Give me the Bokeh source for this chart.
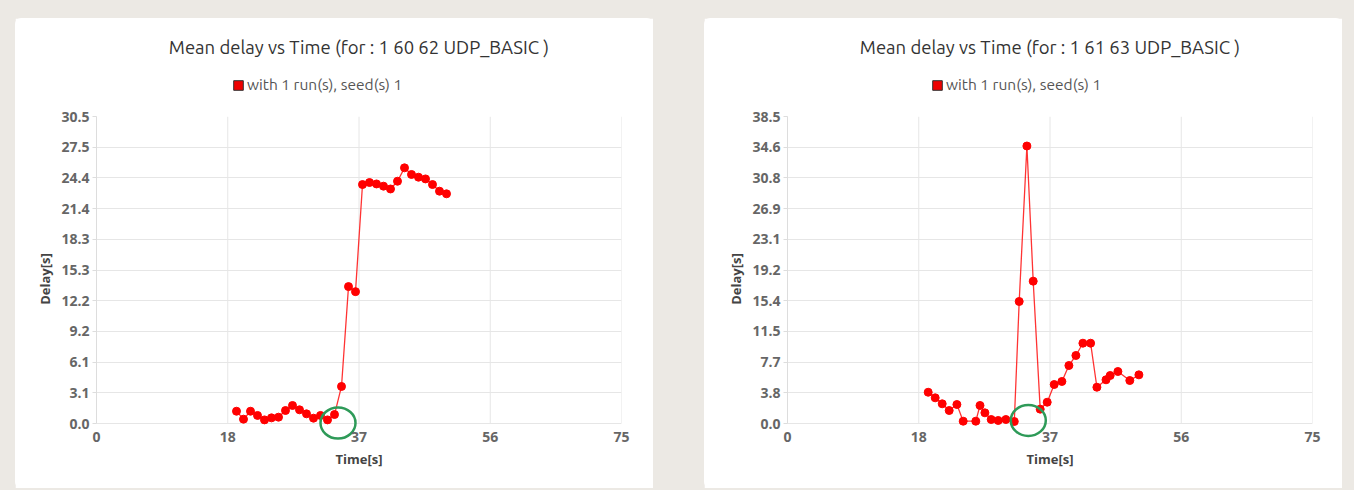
from bokeh.plotting import figure
from bokeh.layouts import row, column
from bokeh.models import (FixedTicker, Legend, LegendItem, ColumnDataSource)
from bokeh.embed import file_html
from bokeh.resources import INLINE

# ---------------- data ----------------
left_title = "Mean delay vs Time (for : 1 60 62 UDP_BASIC )"
right_title = "Mean delay vs Time (for : 1 61 63 UDP_BASIC )"
legend_label = "with 1 run(s), seed(s) 1"

left_time = [20, 21, 22, 23, 24, 25, 26, 27, 28, 29, 30, 31, 32, 33, 34, 35,
             36, 37, 38, 39, 40, 41, 42, 43, 44, 45, 46, 47, 48, 49, 50]
left_delay = [1.22, 0.43, 1.22, 0.80, 0.36, 0.56, 0.63, 1.29, 1.79, 1.36, 0.96,
              0.53, 0.80, 0.36, 0.89, 3.68, 13.6, 13.1, 23.74, 23.94, 23.8,
              23.58, 23.3, 24.07, 25.4, 24.74, 24.47, 24.3, 23.74, 23.08, 22.82]

right_time = [20.1, 21.1, 22.1, 23.1, 24.2, 25.1, 26.9, 27.5, 28.2, 29.1, 30.1,
              31.2, 32.4, 33.1, 34.2, 35.1, 36.1, 37.1, 38.1, 39.2, 40.2, 41.2,
              42.2, 43.3, 44.2, 45.5, 46.1, 47.2, 48.9, 50.2]
right_delay = [3.92, 3.22, 2.47, 1.63, 2.38, 0.29, 0.29, 2.26, 1.34, 0.5, 0.38,
               0.5, 0.25, 15.3, 34.8, 17.85, 1.8, 2.67, 4.89, 5.27, 7.27, 8.53,
               10.07, 10.07, 4.55, 5.48, 6.02, 6.52, 5.39, 6.1]

x_ticks = [0, 18.75, 37.5, 56.25, 75]
x_tick_labels = ["0", "18", "37", "56", "75"]
left_y_ticks = [0, 3.05, 6.1, 9.15, 12.2, 15.25, 18.3, 21.35, 24.4, 27.45, 30.5]
left_y_labels = ["0.0", "3.1", "6.1", "9.2", "12.2", "15.3", "18.3", "21.4",
                 "24.4", "27.5", "30.5"]
right_y_ticks = [0, 3.85, 7.7, 11.55, 15.4, 19.25, 23.1, 26.95, 30.8, 34.65, 38.5]
right_y_labels = ["0.0", "3.8", "7.7", "11.5", "15.4", "19.2", "23.1", "26.9",
                  "30.8", "34.6", "38.5"]

# green highlight circles (annotation drawn on the screenshot)
left_mark_x = [34.5]
left_mark_y = [0.05]
right_mark_x = [34.4]
right_mark_y = [0.38]

RED = "#ff0000"
GRID = "#e6e6e6"
TICK_COLOR = "#666666"
FONT = "Open Sans"
FRAME_H = 307      # px height of the 0..max region
PAD_PX = 18        # extra room below zero for the highlight circle
PANEL_W = 638


def make_header(title, legend_x):
    h = figure(width=PANEL_W, height=88, x_range=(0, 1), y_range=(0, 1),
               x_axis_type=None, y_axis_type=None,
               output_backend="svg", toolbar_location=None,
               min_border_left=0, min_border_right=0, min_border_top=0,
               min_border_bottom=0, outline_line_color=None,
               background_fill_color="white", border_fill_color="white")
    h.grid.visible = False
    h.title.text = title
    h.title.align = "center"
    h.title.offset = -26
    h.title.text_font = "Ubuntu, Lato"
    h.title.text_font_size = "18.5px"
    h.title.text_font_style = "normal"
    h.title.text_color = "#333333"
    h.title.standoff = 33
    # legend proxy: one swatch that sits outside the visible header range
    sq = h.quad(left=[2], right=[3], top=[3], bottom=[2], fill_color="#ee0000",
                line_color="#333333", line_width=1)
    legend = Legend(items=[LegendItem(label=legend_label, renderers=[sq])],
                    location=(legend_x, 13), orientation="horizontal",
                    border_line_color=None, background_fill_alpha=0,
                    padding=0, margin=0, spacing=0,
                    glyph_width=12, glyph_height=12, label_standoff=3,
                    label_height=16,
                    label_text_font="Ubuntu, Lato", label_text_font_size="15.5px",
                    label_text_color="#555555")
    h.add_layout(legend, "center")
    return h


def make_plot(xs, ys, yticks, ylabels, ymax, mark_x, mark_y, left_border):
    pad = ymax * PAD_PX / FRAME_H
    p = figure(width=PANEL_W, height=382, x_range=(0, 75),
               y_range=(-pad, ymax),
               output_backend="svg", toolbar_location=None,
               min_border_left=left_border, min_border_right=PANEL_W - left_border - 525,
               min_border_top=10, min_border_bottom=382 - 10 - FRAME_H - PAD_PX,
               background_fill_color="white", border_fill_color="white",
               outline_line_color=None)

    p.xaxis.ticker = FixedTicker(ticks=x_ticks)
    p.xaxis.major_label_overrides = {t: l for t, l in zip(x_ticks, x_tick_labels)}
    p.yaxis.ticker = FixedTicker(ticks=yticks)
    p.yaxis.major_label_overrides = {t: l for t, l in zip(yticks, ylabels)}
    p.yaxis.bounds = (0, ymax)
    p.xaxis.axis_label = "Time[s]"
    p.yaxis.axis_label = "Delay[s]"
    for ax in (p.xaxis[0], p.yaxis[0]):
        ax.axis_label_text_font = FONT
        ax.axis_label_text_font_size = "13px"
        ax.axis_label_text_font_style = "bold"
        ax.axis_label_text_color = "#444444"
        ax.major_label_text_font = FONT
        ax.major_label_text_font_size = "14px"
        ax.major_label_text_font_style = "bold"
        ax.major_label_text_color = TICK_COLOR
        ax.axis_line_color = "#dddddd"
        ax.major_tick_line_color = "#dddddd"
        ax.minor_tick_line_color = None
        ax.major_tick_in = 0
        ax.major_tick_out = 4
    p.xaxis.axis_line_color = None
    p.xaxis.major_tick_out = 0
    p.xaxis.major_label_standoff = -10
    p.xaxis.axis_label_standoff = 5
    p.yaxis.major_label_standoff = 3
    p.yaxis.axis_label_standoff = 4
    p.xgrid.visible = False
    p.ygrid.grid_line_color = GRID
    p.ygrid.bounds = (0, 75)
    # vertical grid lines only over the 0..max band
    p.segment(x0=x_ticks, x1=x_ticks, y0=[0] * len(x_ticks),
              y1=[ymax] * len(x_ticks), line_color=GRID, line_width=1)

    src = ColumnDataSource(dict(x=xs, y=ys))
    p.line("x", "y", source=src, line_color=RED, line_width=1.3, line_alpha=0.8)
    p.scatter("x", "y", source=src, size=8, fill_color=RED, line_color=RED)

    p.ellipse(x=mark_x, y=mark_y, width=35, height=31, width_units="screen",
              height_units="screen", fill_color=None, line_color="#2e9a58",
              line_width=2.5)
    return p


def panel(title, legend_x, *args):
    return column(make_header(title, legend_x), make_plot(*args),
                  spacing=0,
                  styles={"background-color": "white", "border-radius": "6px"})


left = panel(left_title, 136, left_time, left_delay, left_y_ticks,
             left_y_labels, 30.5, left_mark_x, left_mark_y, 81)
right = panel(right_title, 144, right_time, right_delay, right_y_ticks,
              right_y_labels, 38.5, right_mark_x, right_mark_y, 83)

layout = row(left, right, spacing=51,
             styles={"background-color": "#ECE9E4",
                     "padding": "18px 12px 2px 15px"})

open("out.html", "w").write(file_html(layout, INLINE))
